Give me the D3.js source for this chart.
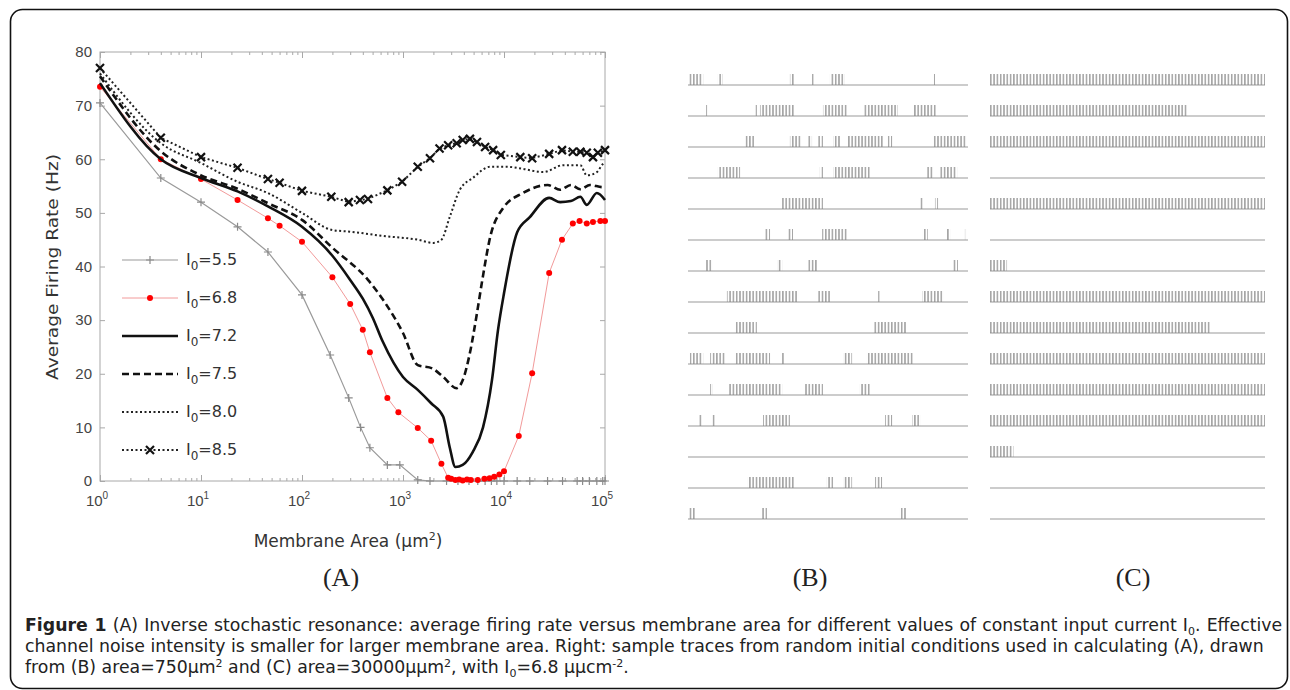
<!DOCTYPE html>
<html>
<head>
<meta charset="utf-8">
<script src="https://cdn.jsdelivr.net/npm/d3@7"></script>
<style>
  body { margin: 0; background: #fff; }
  svg { display: block; }
</style>
</head>
<body>
<svg id="fig"></svg>
<script>
// ---- panel A data: [membrane area (um^2), average firing rate (Hz)] ----
var levels = ["5.5", "6.8", "7.2", "7.5", "8.0", "8.5"];

var rate55 = [[1,70.5],[4,56.5],[10,52],[23,47.4],[46,42.7],[100,34.7],[190,23.5],[290,15.5],
  [380,10],[470,6.2],[700,3],[930,3],[1400,0.2],[1850,0],[2700,0],[3500,0],[4500,0],[5500,0],
  [6500,0],[7500,0],[8500,0],[10000,0],[13500,0],[18000,0],[27000,0],[38000,0],[53000,0],
  [60000,0],[70000,0],[83000,0],[95000,0],[100000,0]];

var rate68 = [[1,73.5],[4,60],[10,56.3],[23,52.4],[46,49],[60,47.6],[100,44.6],[200,38],[300,33],
  [400,28.2],[470,24],[700,15.5],[900,12.8],[1400,9.9],[1900,7.5],[2400,3.2],[2800,0.6],[3000,0.4],
  [3300,0.2],[3600,0.3],[3900,0.1],[4300,0.3],[4700,0.2],[5500,0.2],[6400,0.4],[7200,0.5],[8000,0.8],
  [9000,1.2],[10000,1.8],[14000,8.4],[19000,20.1],[28000,38.8],[37500,45],[48000,48],[56000,48.5],
  [66000,48],[76000,48.3],[90000,48.5],[100000,48.5]];

var rate72 = [[1,74.2],[4,60],[10,56.5],[23,54],[46,51.2],[100,47.4],[200,42],[300,37.5],[400,34],
  [500,30.5],[630,26],[1000,19.4],[1400,17],[1900,14.5],[2500,12],[2900,6.3],[3300,2.6],[3900,3],
  [4900,5.4],[6200,10],[7600,18.8],[8700,28],[10000,35],[13500,46.4],[18000,49.2],[28000,52.8],
  [36000,52],[46000,52.2],[57000,53],[66000,51.5],[83000,53.7],[100000,52.4]];

var rate75 = [[1,75.5],[4,61.5],[10,57],[23,54.5],[46,51.8],[100,48.7],[200,43.5],[450,37.5],
  [650,33.5],[1000,27.6],[1400,21.6],[1950,21],[2500,19.4],[3400,17.3],[3900,18.8],[4600,23.9],
  [5400,31.3],[6100,37.5],[7300,45.5],[9800,50.9],[15400,53.7],[27000,55.2],[36000,54.3],
  [46000,55.2],[57000,54.4],[71000,55.2],[95000,54.8],[100000,55]];

var rate80 = [[1,76],[4,63],[10,59.3],[23,55.8],[46,53.7],[100,50],[200,46.8],[300,46.5],[630,45.7],
  [1400,45],[2000,44.4],[2400,45],[2900,49.2],[3650,54.3],[4900,56.5],[7300,58.6],[10700,58.6],
  [15400,58.2],[24500,57.6],[38500,58.9],[57000,58.9],[66000,57],[83000,57.6],[94000,59],[100000,59.5]];

var rate85 = [[1,77],[4,64],[10,60.4],[23,58.4],[46,56.3],[60,55.6],[100,54.1],[195,53],[290,52],
  [375,52.4],[450,52.6],[700,54.2],[980,55.8],[1400,58.6],[1850,60.2],[2300,62],[2800,62.6],
  [3400,63],[3900,63.6],[4600,63.8],[5400,63.2],[6500,62.3],[7800,61.7],[9300,60.8],[14500,60.4],
  [19000,60.2],[28000,61],[37500,61.7],[48000,61.4],[57000,61.4],[66000,61.2],[76000,60.4],
  [85000,61.2],[100000,61.7]];

var yTicks = [0, 10, 20, 30, 40, 50, 60, 70, 80];
var xDecades = [1, 10, 100, 1000, 10000, 100000];

// ---- panels B, C: firing intervals per trace, in ms of a 1000 ms window ----
var tracesB = [
  [[0,54],[107,125],[364,382],[443,446],[507,560],[875,882]],
  [[61,68],[239,246],[257,382],[482,571],[625,750],[804,889]],
  [[204,239],[364,407],[425,443],[461,482],[518,543],[571,696],[714,729],[875,996]],
  [[107,186],[471,482],[518,650],[854,875],[900,961]],
  [[336,482],[829,839],[882,893]],
  [[275,293],[354,375],[479,571],[839,857],[925,936],[989,996]],
  [[61,86],[318,336],[429,461],[943,964]],
  [[139,393],[461,507],[679,686],[836,911]],
  [[168,246],[661,782]],
  [[7,54],[79,132],[168,293],[336,346],[554,586],[639,804]],
  [[79,89],[143,336],[418,482],[614,650]],
  [[36,50],[86,96],[268,364],[704,729],[800,829]],
  [],
  [[214,382],[496,518],[554,586],[668,693]],
  [[0,25],[264,282],[757,782]]
];
var tracesC = [
  [[0,1000]], [[0,720]], [[0,1000]], [], [[0,1000]], [], [[0,62]], [[0,1000]],
  [[0,800]], [[0,1000]], [[0,1000]], [[0,1000]], [[0,85]], [], []
];

var makeTranslateString = function (x, y) {
  return "translate(" + x + "," + y + ")";
};

var svg = d3.select("#fig").attr("width", 1290).attr("height", 690);

// outer frame
svg.append("rect")
  .attr("x", 10.5).attr("y", 9.5)
  .attr("width", 1277).attr("height", 679)
  .attr("rx", 12)
  .attr("fill", "none").attr("stroke", "#111").attr("stroke-width", 1.6);

// ================= panel A =================
var box = { left: 100, right: 605, top: 52, bottom: 481 };
var xScale = d3.scaleLog().domain([1, 1e5]).range([box.left, box.right]);
var yScale = d3.scaleLinear().domain([0, 80]).range([box.bottom, box.top]);

var axisColor = "#a8a8a8";

var minorTicks = [];
xDecades.slice(0, -1).forEach(function (d) {
  for (var k = 2; k < 10; k++) minorTicks.push(d * k);
});

var styleAxis = function (g) {
  g.select(".domain").remove();
  g.selectAll(".tick line").attr("stroke", axisColor);
  g.selectAll(".tick text").attr("fill", "#444")
    .style("font-family", "'Liberation Sans', Arial, sans-serif").style("font-size", "15px");
};

var axesG = svg.append("g");

axesG.append("g").attr("transform", makeTranslateString(box.left, 0))
  .call(d3.axisLeft(yScale).tickValues(yTicks).tickSize(-5).tickPadding(8))
  .call(styleAxis);
axesG.append("g").attr("transform", makeTranslateString(box.right, 0))
  .call(d3.axisRight(yScale).tickValues(yTicks).tickSize(-5).tickFormat(""))
  .call(styleAxis);

[["bottom", box.bottom], ["top", box.top]].forEach(function (side) {
  var maker = side[0] === "bottom" ? d3.axisBottom : d3.axisTop;
  axesG.append("g").attr("transform", makeTranslateString(0, side[1]))
    .call(maker(xScale).tickValues(minorTicks).tickSize(-3).tickFormat(""))
    .call(styleAxis);
  axesG.append("g").attr("transform", makeTranslateString(0, side[1]))
    .call(maker(xScale).tickValues(xDecades).tickSize(-6).tickFormat(""))
    .call(styleAxis);
});

// log tick labels 10^n
var xLabels = axesG.append("g").selectAll("text").data(xDecades).enter().append("text")
  .attr("x", function (d) { return xScale(d) - 3; })
  .attr("y", box.bottom + 25)
  .attr("text-anchor", "middle")
  .attr("fill", "#444")
  .style("font-family", "'Liberation Sans', Arial, sans-serif").style("font-size", "15px");
xLabels.append("tspan").text("10");
xLabels.append("tspan").attr("dy", -7).style("font-size", "10px")
  .text(function (d) { return Math.round(Math.log10(d)); });

axesG.append("rect")
  .attr("x", box.left).attr("y", box.top)
  .attr("width", box.right - box.left).attr("height", box.bottom - box.top)
  .attr("fill", "none").attr("stroke", axisColor).attr("stroke-width", 1);

// axis titles
svg.append("text")
  .attr("transform", "translate(58,267) rotate(-90)")
  .attr("text-anchor", "middle")
  .attr("fill", "#333")
  .attr("textLength", 226).attr("lengthAdjust", "spacingAndGlyphs")
  .style("font-family", "'DejaVu Sans', sans-serif").style("font-size", "16px")
  .text("Average Firing Rate (Hz)");

var xTitle = svg.append("text")
  .attr("x", 348).attr("y", 547)
  .attr("text-anchor", "middle")
  .attr("fill", "#333")
  .style("font-family", "'DejaVu Sans', sans-serif").style("font-size", "17px");
xTitle.append("tspan").text("Membrane Area (\u03bcm");
xTitle.append("tspan").attr("dy", -7).style("font-size", "11px").text("2");
xTitle.append("tspan").attr("dy", 7).text(")");

// series definitions
var series = [
  { data: rate55, color: "#9a9a9a", width: 1.2, dash: null, marker: "plus", curve: d3.curveLinear },
  { data: rate68, color: "#f29a9a", width: 1, dash: null, marker: "dot", curve: d3.curveLinear },
  { data: rate72, color: "#111", width: 2.6, dash: null, marker: null, curve: d3.curveMonotoneX },
  { data: rate75, color: "#111", width: 2.6, dash: "7,4", marker: null, curve: d3.curveMonotoneX },
  { data: rate80, color: "#222", width: 2, dash: "2,2.5", marker: null, curve: d3.curveMonotoneX },
  { data: rate85, color: "#222", width: 2, dash: "2,2.5", marker: "cross", curve: d3.curveLinear }
];

var drawMarker = function (sel, type) {
  if (type === "plus") {
    sel.append("path").attr("d", "M-4,0H4M0,-4V4")
      .attr("stroke", "#8a8a8a").attr("stroke-width", 1.2).attr("fill", "none");
  } else if (type === "dot") {
    sel.append("circle").attr("r", 3).attr("fill", "#ff0000");
  } else if (type === "cross") {
    sel.append("path").attr("d", "M-4,-4L4,4M-4,4L4,-4")
      .attr("stroke", "#111").attr("stroke-width", 2.2).attr("fill", "none");
  }
};

var plotG = svg.append("g");

series.forEach(function (s) {
  var line = d3.line()
    .x(function (d) { return xScale(d[0]); })
    .y(function (d) { return yScale(d[1]); })
    .curve(s.curve);
  plotG.append("path")
    .attr("d", line(s.data))
    .attr("fill", "none")
    .attr("stroke", s.color)
    .attr("stroke-width", s.width)
    .attr("stroke-dasharray", s.dash);
  if (s.marker) {
    plotG.append("g").selectAll("g").data(s.data).enter().append("g")
      .attr("transform", function (d) { return makeTranslateString(xScale(d[0]), yScale(d[1])); })
      .each(function () { drawMarker(d3.select(this), s.marker); });
  }
});

// legend
var legend = svg.append("g").attr("transform", makeTranslateString(122, 260));
var entries = legend.selectAll("g").data(series).enter().append("g")
  .attr("transform", function (s, i) { return makeTranslateString(0, i * 38); });
entries.append("line")
  .attr("x1", 0).attr("x2", 56)
  .attr("stroke", function (s) { return s.color; })
  .attr("stroke-width", function (s) { return s.width; })
  .attr("stroke-dasharray", function (s) { return s.dash; });
entries.each(function (s) {
  if (s.marker) {
    var m = d3.select(this).append("g").attr("transform", makeTranslateString(28, 0));
    drawMarker(m, s.marker);
  }
});
var legendText = entries.append("text")
  .attr("x", 64).attr("y", 5)
  .attr("fill", "#333")
  .style("font-family", "'DejaVu Sans', sans-serif").style("font-size", "16px");
legendText.append("tspan").text("I");
legendText.append("tspan").attr("dy", 5).style("font-size", "12px").text("0");
legendText.append("tspan").attr("dy", -5).text(function (s, i) { return "=" + levels[i]; });

// ================= panels B and C: spike traces =================
var defs = svg.append("defs");
var pat = defs.append("pattern")
  .attr("id", "spikes")
  .attr("patternUnits", "userSpaceOnUse")
  .attr("width", 3.3).attr("height", 20);
pat.append("line")
  .attr("x1", 0.8).attr("x2", 0.8).attr("y1", 0).attr("y2", 20)
  .attr("stroke", "#888").attr("stroke-width", 1.2);

var rowScale = d3.scaleLinear().domain([0, 14]).range([85, 519]);

var drawTraces = function (traces, x0, x1) {
  var timeScale = d3.scaleLinear().domain([0, 1000]).range([x0, x1]);
  var rows = svg.append("g").selectAll("g").data(traces).enter().append("g")
    .attr("transform", function (d, i) { return makeTranslateString(0, rowScale(i)); });
  rows.append("line")
    .attr("x1", x0).attr("x2", x1)
    .attr("stroke", "#9a9a9a").attr("stroke-width", 1.2);
  rows.selectAll("rect").data(function (d) { return d; }).enter().append("rect")
    .attr("x", function (b) { return timeScale(b[0]); })
    .attr("y", -11)
    .attr("width", function (b) { return Math.max(2, timeScale(b[1]) - timeScale(b[0])); })
    .attr("height", 11)
    .attr("fill", "url(#spikes)");
};

drawTraces(tracesB, 688, 968);
drawTraces(tracesC, 990, 1265);

// panel letters
svg.append("g").selectAll("text")
  .data([["(A)", 341], ["(B)", 810], ["(C)", 1133]])
  .enter().append("text")
  .attr("x", function (d) { return d[1]; })
  .attr("y", 586)
  .attr("text-anchor", "middle")
  .attr("fill", "#222")
  .style("font-family", "'Liberation Serif', 'Times New Roman', serif").style("font-size", "26px")
  .text(function (d) { return d[0]; });

// ================= caption =================
var caption = svg.append("g").attr("fill", "#222")
  .style("font-family", "'DejaVu Sans', sans-serif");

var captionLines = [
  { y: 631, right: 1282, parts: [["Figure 1", "b"], [" (A) Inverse stochastic resonance: average firing rate versus membrane area for different values of constant input current I"], ["0", "sub"], [". Effective"]] },
  { y: 652, right: 1262, parts: [["channel noise intensity is smaller for larger membrane area. Right: sample traces from random initial conditions used in calculating (A), drawn"]] },
  { y: 673, right: null, parts: [["from (B) area=750\u03bcm"], ["2", "sup"], [" and (C) area=30000\u03bc\u03bcm"], ["2", "sup"], [", with I"], ["0", "sub"], ["=6.8 \u03bc\u03bccm"], ["-2", "sup"], ["."]] }
];

captionLines.forEach(function (ln) {
  var t = caption.append("text").attr("x", 25).attr("y", ln.y).style("font-size", "16px");
  var pending = 0;
  ln.parts.forEach(function (p) {
    var ts = t.append("tspan").text(p[0]);
    if (pending) { ts.attr("dy", pending); pending = 0; }
    if (p[1] === "b") ts.style("font-weight", "bold");
    if (p[1] === "sub") { ts.attr("dy", 4).style("font-size", "11px"); pending = -4; }
    if (p[1] === "sup") { ts.attr("dy", -6).style("font-size", "11px"); pending = 6; }
  });
  ln.node = t;
});

// fit caption size so the first line nearly fills the column, then justify
var natural = captionLines[0].node.node().getComputedTextLength();
var captionSize = Math.min(17.5, 16 * 1245 / natural);
captionLines.forEach(function (ln) {
  ln.node.style("font-size", captionSize.toFixed(2) + "px");
  if (ln.right) {
    var w = ln.node.node().getComputedTextLength();
    var spaces = ln.node.text().split(" ").length - 1;
    ln.node.attr("word-spacing", Math.max(0, (ln.right - 25 - w) / spaces).toFixed(2));
  }
});
</script>
</body>
</html>
